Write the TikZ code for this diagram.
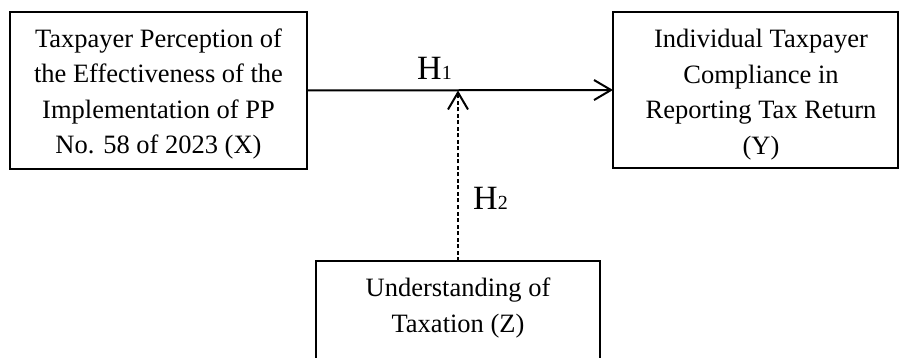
\documentclass[tikz,border=0pt]{standalone}
\usepackage{fontspec}
\setmainfont{Liberation Serif}
\usetikzlibrary{arrows.meta}
\begin{document}
\begin{tikzpicture}[x=1pt,y=-1pt,
  box/.style={draw, line width=2.5pt, rectangle, inner sep=0pt, outer sep=0pt},
  txt/.style={align=center, inner sep=0pt, font=\fontsize{26.5}{35.5}\selectfont},
  hyp/.style={inner sep=0pt, anchor=base west, font=\fontsize{34}{34}\selectfont},
  conn/.style={line width=2pt, -{Straight Barb[length=17pt, width=20pt, line width=2pt]}}
]
\clip (0,0) rectangle (899,358);
\fill[white] (0,0) rectangle (899,358);
\node[box, minimum width=297pt, minimum height=157pt] (X) at (158.5,90.5) {};
\node[box, minimum width=285pt, minimum height=156pt] (Y) at (755.5,90) {};
\node[box, minimum width=284pt, minimum height=160pt] (Z) at (458,341) {};
\node[txt] (Xt) at (158.5,94) {Taxpayer Perception of\\the Effectiveness of the\\Implementation of PP\\No. 58 of 2023 (X)};
\node[txt] (Yt) at (761,94.5) {Individual Taxpayer\\Compliance in\\Reporting Tax Return\\(Y)};
\node[txt] (Zt) at (458,308) {Understanding of\\Taxation (Z)};
\draw[conn] (X.east) -- (Y.west);
\coordinate (M) at (Z.north |- X.east);
\draw[conn, dash pattern=on 4pt off 2.5pt] (Z.north) -- (M);
\node[hyp] (H1) at (417,80) {H{\fontsize{20}{20}\selectfont 1}};
\node[hyp] (H2) at (473,210) {H{\fontsize{20}{20}\selectfont 2}};
\end{tikzpicture}
\end{document}
